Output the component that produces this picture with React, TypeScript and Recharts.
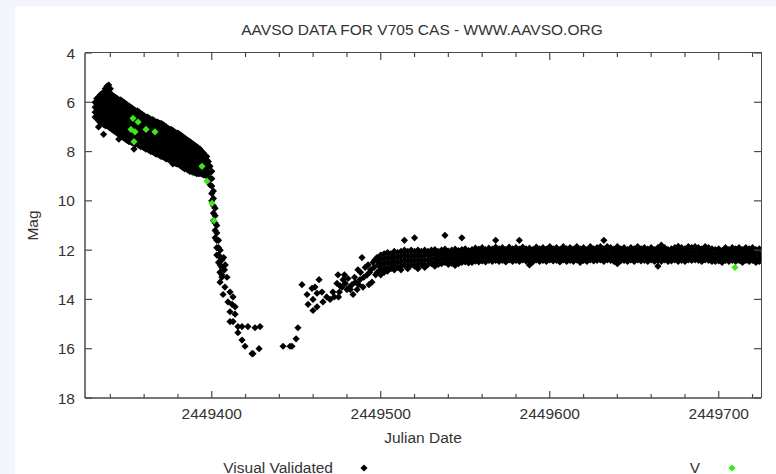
import React from 'react';
import { ScatterChart, Scatter, XAxis, YAxis, Legend } from 'recharts';

// Julian dates are stored as offsets from JD 2449000
const JD0 = 2449000;

// outburst maximum and slow decline: [day, mag, mag, ...]
const outburstRows: number[][] = [
  [331, 6.0, 6.2, 6.4, 6.6],
  [332, 5.85, 6.05, 6.25, 6.45, 6.65],
  [333, 5.8, 6.0, 6.2, 6.4, 6.6, 6.75, 7.0],
  [334, 5.7, 5.9, 6.1, 6.3, 6.5, 6.7, 6.8],
  [335, 5.65, 5.85, 6.05, 6.25, 6.45, 6.65, 6.85],
  [336, 5.6, 5.8, 6.0, 6.2, 6.4, 6.6, 6.8, 6.9, 7.3],
  [337, 5.45, 5.65, 5.85, 6.05, 6.25, 6.45, 6.65, 6.85, 6.95],
  [338, 5.35, 5.55, 5.75, 5.95, 6.15, 6.35, 6.55, 6.75, 6.95],
  [339, 5.3, 5.5, 5.7, 5.9, 6.1, 6.3, 6.5, 6.7, 6.9, 7.0],
  [340, 5.45, 5.65, 5.85, 6.05, 6.25, 6.45, 6.65, 6.85, 7.05],
  [341, 5.7, 5.9, 6.1, 6.3, 6.5, 6.7, 6.9, 7.1],
  [342, 5.75, 5.95, 6.15, 6.35, 6.55, 6.75, 6.95, 7.15],
  [343, 5.8, 6.0, 6.2, 6.4, 6.6, 6.8, 7.0, 7.2],
  [344, 5.85, 6.05, 6.25, 6.45, 6.65, 6.85, 7.05, 7.25],
  [345, 5.9, 6.1, 6.3, 6.5, 6.7, 6.9, 7.1, 7.3, 7.5],
  [346, 5.9, 6.1, 6.3, 6.5, 6.7, 6.9, 7.1, 7.35],
  [347, 5.95, 6.15, 6.35, 6.55, 6.75, 6.95, 7.15, 7.4],
  [348, 6.0, 6.2, 6.4, 6.6, 6.8, 7.0, 7.2, 7.45],
  [349, 6.05, 6.25, 6.45, 6.65, 6.85, 7.05, 7.25, 7.5],
  [350, 6.1, 6.3, 6.5, 6.7, 6.9, 7.1, 7.3, 7.55],
  [351, 6.15, 6.35, 6.55, 6.75, 6.95, 7.15, 7.35, 7.6],
  [352, 6.2, 6.4, 6.6, 6.8, 7.0, 7.2, 7.4, 7.6],
  [353, 6.25, 6.45, 6.65, 6.85, 7.05, 7.25, 7.45, 7.65],
  [354, 6.3, 6.5, 6.7, 6.9, 7.1, 7.3, 7.5, 7.65, 7.9],
  [355, 6.35, 6.55, 6.75, 6.95, 7.15, 7.35, 7.55, 7.7],
  [356, 6.35, 6.55, 6.75, 6.95, 7.15, 7.35, 7.55, 7.7],
  [357, 6.4, 6.6, 6.8, 7.0, 7.2, 7.4, 7.6, 7.75],
  [358, 6.45, 6.65, 6.85, 7.05, 7.25, 7.45, 7.65, 7.8],
  [359, 6.5, 6.7, 6.9, 7.1, 7.3, 7.5, 7.7, 7.8],
  [360, 6.55, 6.75, 6.95, 7.15, 7.35, 7.55, 7.75, 7.85],
  [361, 6.6, 6.8, 7.0, 7.2, 7.4, 7.6, 7.8, 7.9],
  [362, 6.6, 6.8, 7.0, 7.2, 7.4, 7.6, 7.8, 7.9],
  [363, 6.65, 6.85, 7.05, 7.25, 7.45, 7.65, 7.85, 7.95],
  [364, 6.7, 6.9, 7.1, 7.3, 7.5, 7.7, 7.9, 8.0],
  [365, 6.7, 6.9, 7.1, 7.3, 7.5, 7.7, 7.9, 8.0],
  [366, 6.75, 6.95, 7.15, 7.35, 7.55, 7.75, 7.95, 8.05],
  [367, 6.8, 7.0, 7.2, 7.4, 7.6, 7.8, 8.0, 8.1],
  [368, 6.8, 7.0, 7.2, 7.4, 7.6, 7.8, 8.0, 8.1],
  [369, 6.85, 7.05, 7.25, 7.45, 7.65, 7.85, 8.05, 8.15],
  [370, 6.85, 7.05, 7.25, 7.45, 7.65, 7.85, 8.05, 8.2],
  [371, 6.9, 7.1, 7.3, 7.5, 7.7, 7.9, 8.1, 8.2],
  [372, 6.95, 7.15, 7.35, 7.55, 7.75, 7.95, 8.15, 8.25],
  [373, 7.0, 7.2, 7.4, 7.6, 7.8, 8.0, 8.2, 8.3],
  [374, 7.05, 7.25, 7.45, 7.65, 7.85, 8.05, 8.25, 8.3],
  [375, 7.1, 7.3, 7.5, 7.7, 7.9, 8.1, 8.3, 8.35],
  [376, 7.1, 7.3, 7.5, 7.7, 7.9, 8.1, 8.3, 8.4],
  [377, 7.15, 7.35, 7.55, 7.75, 7.95, 8.15, 8.35, 8.5],
  [378, 7.2, 7.4, 7.6, 7.8, 8.0, 8.2, 8.4, 8.45],
  [379, 7.25, 7.45, 7.65, 7.85, 8.05, 8.25, 8.45, 8.5],
  [380, 7.25, 7.45, 7.65, 7.85, 8.05, 8.25, 8.45, 8.5],
  [381, 7.3, 7.5, 7.7, 7.9, 8.1, 8.3, 8.5, 8.55],
  [382, 7.35, 7.55, 7.75, 7.95, 8.15, 8.35, 8.55, 8.6],
  [383, 7.4, 7.6, 7.8, 8.0, 8.2, 8.4, 8.6, 8.65],
  [384, 7.45, 7.65, 7.85, 8.05, 8.25, 8.45, 8.65, 8.7],
  [385, 7.5, 7.7, 7.9, 8.1, 8.3, 8.5, 8.7],
  [386, 7.55, 7.75, 7.95, 8.15, 8.35, 8.55, 8.75],
  [387, 7.6, 7.8, 8.0, 8.2, 8.4, 8.6, 8.8],
  [388, 7.65, 7.85, 8.05, 8.25, 8.45, 8.65, 8.8],
  [389, 7.7, 7.9, 8.1, 8.3, 8.5, 8.7, 8.85],
  [390, 7.75, 7.95, 8.15, 8.35, 8.55, 8.75, 8.85],
  [391, 7.8, 8.0, 8.2, 8.4, 8.6, 8.8, 8.9],
  [392, 7.85, 8.05, 8.25, 8.45, 8.65, 8.85, 8.9],
  [393, 7.9, 8.1, 8.3, 8.5, 8.7, 8.9],
  [394, 8.0, 8.2, 8.4, 8.6, 8.8, 8.9],
  [395, 8.05, 8.25, 8.45, 8.65, 8.85, 8.95],
  [396, 8.15, 8.35, 8.55, 8.75, 8.95],
  [397, 8.2, 8.4, 8.6, 8.8, 9.0],
];

// steep fade
const fadeRows: number[][] = [
  [398, 8.4, 8.6, 8.85],
  [399, 8.6, 8.85, 9.1, 9.35],
  [400, 8.8, 9.1, 9.4, 9.7, 10.0],
  [401, 9.6, 9.9, 10.2, 10.5, 10.8],
  [402, 10.3, 10.6, 10.9, 11.2, 11.5],
  [403, 11.0, 11.3, 11.6, 11.9, 12.2],
  [404, 11.6, 11.9, 12.2, 12.5],
  [405, 12.0, 12.3, 12.6, 12.9],
  [406, 12.4, 12.7, 13.0],
];

// dust dip minimum: [day, mag]
const dipPoints: number[][] = [
  [407, 12.3], [408, 12.6], [407.5, 12.8], [404.9, 12.9], [406, 13.1], [409, 13.1],
  [404.9, 13.3], [407.8, 13.5], [406.7, 13.8], [410.8, 13.7], [412.6, 13.9],
  [409.6, 14.1], [412, 14.2], [413.8, 14.3], [410.8, 14.5], [413.8, 14.6],
  [410.8, 14.9], [412.6, 14.9], [415.5, 15.1], [417.9, 15.1], [421.4, 15.1],
  [425.6, 15.15], [428.6, 15.1], [415.5, 15.35], [417.9, 15.65], [419.7, 15.9],
  [423.8, 16.2], [424.4, 16.2], [428, 16.0], [442.2, 15.9], [446.3, 15.9],
  [447.5, 15.9], [449.9, 15.6], [451, 15.15],
];

// recovery: [day, mag]
const recoveryPoints: number[][] = [
  [453.4, 13.4], [456.4, 13.8], [459.3, 13.55], [461.1, 13.5], [463.5, 13.2],
  [465.2, 13.7], [462.3, 13.75], [459.9, 14.0], [457, 14.2], [459.9, 14.45],
  [462.3, 14.3], [465.8, 14.1], [468, 13.9], [470, 14.0], [471.7, 13.7],
  [472.5, 13.9], [474.1, 13.35], [474.7, 13.0], [475, 13.9], [475.5, 13.7],
  [476, 13.45], [477.1, 13.5], [477.7, 13.2], [478.5, 13.0], [479, 13.35],
  [480, 13.6], [480.6, 13.15], [481.5, 13.5], [482, 13.6], [483, 13.4],
  [483.6, 13.8], [484.5, 13.1], [485, 13.3], [486, 13.6], [486.5, 12.8],
  [487, 13.4], [487.7, 13.2], [488, 12.9], [488.9, 12.3], [489.5, 13.5],
  [490, 13.1], [490.8, 12.7], [491.9, 13.0], [492.5, 12.6], [493, 13.4],
  [493.5, 12.9], [494, 12.8], [494.8, 13.3], [495.4, 12.5], [496, 12.7],
  [496.5, 12.4], [497, 13.0], [497.8, 12.3], [498, 12.9], [498.5, 12.6],
  [499, 12.5], [499.6, 12.8],
];

// post-dip plateau: [day, mag, mag, ...]
const plateauRows: number[][] = [
  [500, 12.2, 12.4, 12.6, 12.8, 13.0], [502, 12.15, 12.35, 12.55, 12.75, 12.9],
  [504, 12.1, 12.3, 12.5, 12.7, 12.85], [506, 12.15, 12.35, 12.55, 12.75],
  [508, 12.05, 12.25, 12.45, 12.65, 12.8], [510, 12.1, 12.3, 12.5, 12.7],
  [512, 12.05, 12.25, 12.45, 12.65, 12.8], [514, 12.0, 12.2, 12.4, 12.6, 11.6],
  [516, 12.05, 12.25, 12.45, 12.65, 12.75], [518, 12.0, 12.2, 12.4, 12.6],
  [520, 12.05, 12.25, 12.45, 12.65, 11.5], [522, 12.0, 12.2, 12.4, 12.6, 12.75],
  [524, 12.05, 12.25, 12.45, 12.6], [526, 12.0, 12.2, 12.4, 12.6, 12.7],
  [528, 12.05, 12.22, 12.4, 12.58], [530, 12.0, 12.18, 12.36, 12.55],
  [532, 11.98, 12.16, 12.34, 12.52, 12.65], [534, 12.05, 12.22, 12.4, 12.58],
  [536, 12.0, 12.18, 12.36, 12.55], [538, 11.96, 12.14, 12.32, 12.5, 11.4],
  [540, 12.04, 12.22, 12.4, 12.58], [542, 12.0, 12.18, 12.36, 12.54],
  [544, 11.96, 12.14, 12.32, 12.5, 12.62], [546, 12.02, 12.2, 12.38, 12.55],
  [548, 11.98, 12.16, 12.34, 12.5, 11.5], [550, 11.95, 12.12, 12.3, 12.48],
  [552, 12.02, 12.2, 12.38, 12.52], [554, 11.98, 12.16, 12.34, 12.5],
  [556, 11.92, 12.1, 12.28, 12.45], [558, 11.96, 12.14, 12.32, 12.48],
  [560, 11.9, 12.08, 12.26, 12.44], [562, 11.98, 12.16, 12.34, 12.48],
  [564, 11.92, 12.1, 12.28, 12.42], [566, 11.96, 12.14, 12.32, 12.46],
  [568, 11.88, 12.06, 12.24, 12.42, 11.6], [570, 11.95, 12.13, 12.31, 12.46],
  [572, 11.9, 12.08, 12.26, 12.42], [574, 11.98, 12.16, 12.34, 12.48],
  [576, 11.88, 12.06, 12.24, 12.4], [578, 11.95, 12.13, 12.31, 12.46],
  [580, 11.9, 12.08, 12.26, 12.42], [582, 11.96, 12.14, 12.32, 12.46, 11.6],
  [584, 11.88, 12.06, 12.24, 12.4], [586, 11.95, 12.13, 12.3, 12.45],
  [588, 11.92, 12.1, 12.28, 12.44, 12.6], [590, 11.98, 12.16, 12.34, 12.48],
  [592, 11.88, 12.06, 12.24, 12.4], [594, 11.95, 12.13, 12.31, 12.46],
  [596, 11.9, 12.08, 12.26, 12.42], [598, 11.96, 12.14, 12.32, 12.46],
  [600, 11.86, 12.04, 12.22, 12.4], [602, 11.95, 12.13, 12.3, 12.44],
  [604, 11.9, 12.08, 12.26, 12.42], [606, 11.98, 12.16, 12.34, 12.48],
  [608, 11.86, 12.04, 12.22, 12.4], [610, 11.95, 12.13, 12.31, 12.46],
  [612, 11.9, 12.08, 12.26, 12.42], [614, 11.96, 12.14, 12.32, 12.46],
  [616, 11.86, 12.04, 12.22, 12.4], [618, 11.95, 12.13, 12.31, 12.5],
  [620, 11.9, 12.08, 12.26, 12.42], [622, 11.98, 12.16, 12.34, 12.46],
  [624, 11.86, 12.04, 12.22, 12.4], [626, 11.95, 12.13, 12.3, 12.44],
  [628, 11.9, 12.08, 12.26, 12.42], [630, 11.86, 12.04, 12.22, 12.4],
  [632, 11.95, 12.13, 12.31, 12.46, 11.6], [634, 11.86, 12.04, 12.22, 12.4],
  [636, 11.9, 12.08, 12.26, 12.42], [638, 11.96, 12.14, 12.32, 12.46],
  [640, 11.86, 12.04, 12.22, 12.4, 12.55], [642, 11.95, 12.13, 12.3, 12.44],
  [644, 11.9, 12.08, 12.26, 12.42], [646, 11.98, 12.16, 12.34, 12.46],
  [648, 11.9, 12.06, 12.24, 12.4], [650, 11.95, 12.13, 12.31, 12.46],
  [652, 11.86, 12.04, 12.22, 12.4], [654, 11.95, 12.13, 12.3, 12.44],
  [656, 11.9, 12.08, 12.26, 12.42], [658, 11.96, 12.14, 12.32, 12.46],
  [660, 11.9, 12.08, 12.24, 12.4], [662, 11.98, 12.16, 12.34, 12.46],
  [664, 11.9, 12.08, 12.26, 12.42, 12.65], [666, 11.95, 12.13, 12.31, 12.46, 11.8],
  [668, 11.9, 12.08, 12.24, 12.4], [670, 11.98, 12.16, 12.34, 12.46],
  [672, 11.95, 12.13, 12.3, 12.44], [674, 11.9, 12.08, 12.24, 12.4],
  [676, 11.98, 12.16, 12.34, 12.46, 11.85], [678, 11.9, 12.08, 12.26, 12.42],
  [680, 11.95, 12.13, 12.31, 12.46], [682, 11.86, 12.04, 12.22, 12.4],
  [684, 11.9, 12.08, 12.26, 12.42], [686, 11.86, 12.04, 12.22, 12.4],
  [688, 11.9, 12.08, 12.26, 12.42], [690, 11.95, 12.13, 12.31, 12.46],
  [692, 11.86, 12.04, 12.22, 12.4], [694, 11.9, 12.08, 12.26, 12.42],
  [696, 11.95, 12.13, 12.31, 12.46], [698, 11.98, 12.16, 12.34, 12.46],
  [700, 11.95, 12.13, 12.3, 12.44], [702, 12.02, 12.2, 12.38, 12.5],
  [704, 11.9, 12.08, 12.26, 12.42], [706, 11.98, 12.16, 12.34, 12.46],
  [708, 11.9, 12.08, 12.26, 12.42], [710, 11.95, 12.13, 12.31, 12.46],
  [712, 11.9, 12.08, 12.26, 12.42], [714, 11.98, 12.16, 12.34, 12.5],
  [716, 11.9, 12.08, 12.26, 12.42], [718, 11.95, 12.13, 12.31, 12.46],
  [720, 11.9, 12.08, 12.26, 12.42], [722, 11.98, 12.16, 12.34, 12.5],
  [724, 11.95, 12.13, 12.31, 12.46],
];

// V band (photoelectric) observations
const vDays = [352.2, 353.4, 354.6, 356.4, 361.1, 366.4, 354.0, 394.2, 397.2, 400.1, 401.3, 709.6];
const vMags = [7.1, 6.65, 7.2, 6.8, 7.1, 7.2, 7.6, 8.6, 9.2, 10.1, 10.8, 12.7];

const xTicks = [
  2449340, 2449360, 2449380, 2449400, 2449420, 2449440, 2449460, 2449480, 2449500, 2449520,
  2449540, 2449560, 2449580, 2449600, 2449620, 2449640, 2449660, 2449680, 2449700, 2449720,
];
const yTicks = [4, 6, 8, 10, 12, 14, 16, 18];

const X_DOMAIN = [2449325, 2449725];
const Y_DOMAIN = [4, 18];

// chart box
const CHART_W = 776;
const CHART_H = 474;
const MARGIN = { top: 53, right: 15, bottom: 26, left: 0 };
const YAXIS_W = 85;
const XAXIS_H = 50;
const PLOT_W = CHART_W - MARGIN.left - MARGIN.right - YAXIS_W;
const PLOT_H = CHART_H - MARGIN.top - MARGIN.bottom - XAXIS_H;

const AXIS = '#4a4a4a';
const TEXT = '#333333';
const FONT = '"Liberation Sans", Arial, Helvetica, sans-serif';
const FS = 15.5;
const BLACK = '#000000';
const GREEN = '#3ee61a';

const rowsToPoints = (rows: number[][]) =>
  rows.flatMap(([d, ...mags]) => mags.map((m) => ({ jd: JD0 + d, mag: m })));
const pairsToPoints = (pairs: number[][]) => pairs.map(([d, m]) => ({ jd: JD0 + d, mag: m }));

const visualData = [
  ...rowsToPoints(outburstRows),
  ...rowsToPoints(fadeRows),
  ...pairsToPoints(dipPoints),
  ...pairsToPoints(recoveryPoints),
  ...rowsToPoints(plateauRows),
];
const vData = vDays.map((d, i) => ({ jd: JD0 + d, mag: vMags[i] }));

const Diamond = ({ cx, cy, fill }: any) => {
  const r = 3.6;
  return <path d={`M${cx},${cy - r}L${cx + r},${cy}L${cx},${cy + r}L${cx - r},${cy}Z`} fill={fill} />;
};

// gnuplot style ticks, pointing into the plot, mirrored on the top edge
const BottomTick = ({ x, y, payload }: any) => {
  const len = Number(payload.value) % 100 === 0 ? 7 : 4;
  const top = y - PLOT_H;
  return (
    <g>
      <line x1={x} y1={y} x2={x} y2={y - len} stroke={AXIS} strokeWidth={1.2} />
      <line x1={x} y1={top} x2={x} y2={top + len} stroke={AXIS} strokeWidth={1.2} />
      {len === 7 && (
        <text x={x} y={y + 20.5} textAnchor="middle" fill={TEXT} fontSize={FS} fontFamily={FONT}>
          {payload.value}
        </text>
      )}
    </g>
  );
};

// left ticks with labels, mirrored on the right edge
const LeftTick = ({ x, y, payload }: any) => {
  const right = x + PLOT_W;
  return (
    <g>
      <line x1={x} y1={y} x2={x + 7} y2={y} stroke={AXIS} strokeWidth={1.2} />
      <line x1={right} y1={y} x2={right - 7} y2={y} stroke={AXIS} strokeWidth={1.2} />
      <text x={x - 10} y={y} dy={5.5} textAnchor="end" fill={TEXT} fontSize={FS} fontFamily={FONT}>
        {payload.value}
      </text>
    </g>
  );
};

const MagLabel = ({ viewBox }: any) => {
  const x = viewBox.x + 32;
  const y = viewBox.y + viewBox.height / 2;
  return (
    <text
      x={x}
      y={y}
      transform={`rotate(-90 ${x} ${y})`}
      textAnchor="middle"
      dominantBaseline="central"
      fill={TEXT}
      fontSize={FS}
      fontFamily={FONT}
    >
      Mag
    </text>
  );
};

const DateLabel = ({ viewBox }: any) => (
  <text
    x={viewBox.x + viewBox.width / 2}
    y={viewBox.y + 45}
    textAnchor="middle"
    fill={TEXT}
    fontSize={FS}
    fontFamily={FONT}
  >
    Julian Date
  </text>
);

// key sits at the bottom edge, text then marker
const keySlots: Record<string, { textEnd: number; marker: number }> = {
  'Visual Validated': { textEnd: 333, marker: 364 },
  V: { textEnd: 700, marker: 732 },
};

const KeyContent = ({ payload }: any) => (
  <svg width={CHART_W} height={20} style={{ display: 'block' }}>
    {(payload || [])
      .filter((entry: any) => keySlots[entry.value])
      .map((entry: any) => {
        const slot = keySlots[entry.value];
        return (
          <g key={entry.value}>
            <text x={slot.textEnd} y={16.5} textAnchor="end" fill={TEXT} fontSize={FS} fontFamily={FONT}>
              {entry.value}
            </text>
            <Diamond cx={slot.marker} cy={12} fill={entry.color} />
          </g>
        );
      })}
  </svg>
);

export default function App() {
  const plotLeft = MARGIN.left + YAXIS_W;
  const plotTop = MARGIN.top;
  return (
    <div
      style={{
        position: 'absolute',
        left: 0,
        top: 0,
        width: CHART_W,
        height: CHART_H,
        background: '#f2f5f9',
        overflow: 'hidden',
      }}
    >
      <div style={{ position: 'absolute', left: 15, top: 6, right: 0, bottom: 0, background: '#ffffff' }} />
      <div
        style={{
          position: 'absolute',
          left: 0,
          top: 19.5,
          width: 844,
          textAlign: 'center',
          lineHeight: '20px',
          fontSize: FS,
          fontFamily: FONT,
          color: TEXT,
          whiteSpace: 'nowrap',
        }}
      >
        AAVSO DATA FOR V705 CAS - WWW.AAVSO.ORG
      </div>
      <div style={{ position: 'absolute', left: 0, top: 0 }}>
        <ScatterChart width={CHART_W} height={CHART_H} margin={MARGIN}>
          <XAxis
            dataKey="jd"
            type="number"
            domain={X_DOMAIN}
            allowDataOverflow
            ticks={xTicks}
            interval={0}
            tickLine={false}
            tickSize={0}
            tickMargin={0}
            tick={<BottomTick />}
            height={XAXIS_H}
            axisLine={{ stroke: AXIS, strokeWidth: 1.5 }}
            label={<DateLabel />}
          />
          <YAxis
            dataKey="mag"
            type="number"
            domain={Y_DOMAIN}
            reversed
            allowDataOverflow
            ticks={yTicks}
            interval={0}
            tickLine={false}
            tickSize={0}
            tickMargin={0}
            tick={<LeftTick />}
            width={YAXIS_W}
            axisLine={{ stroke: AXIS, strokeWidth: 1.5 }}
            label={<MagLabel />}
          />
          <Legend
            layout="vertical"
            align="center"
            verticalAlign="middle"
            content={<KeyContent />}
            wrapperStyle={{ left: 0, top: 456, width: CHART_W, height: 20 }}
          />
          <Scatter
            name="Visual Validated"
            data={visualData}
            fill={BLACK}
            shape={(p: any) => <Diamond {...p} fill={BLACK} />}
            isAnimationActive={false}
          />
          <Scatter
            name="V"
            data={vData}
            fill={GREEN}
            shape={(p: any) => <Diamond {...p} fill={GREEN} />}
            isAnimationActive={false}
          />
        </ScatterChart>
      </div>
      {/* top and right border of the plot frame */}
      <div
        style={{
          position: 'absolute',
          left: plotLeft,
          top: plotTop - 0.75,
          width: PLOT_W + 0.75,
          height: PLOT_H + 0.75,
          boxSizing: 'border-box',
          borderTop: `1.5px solid ${AXIS}`,
          borderRight: `1.5px solid ${AXIS}`,
          pointerEvents: 'none',
        }}
      />
    </div>
  );
}
